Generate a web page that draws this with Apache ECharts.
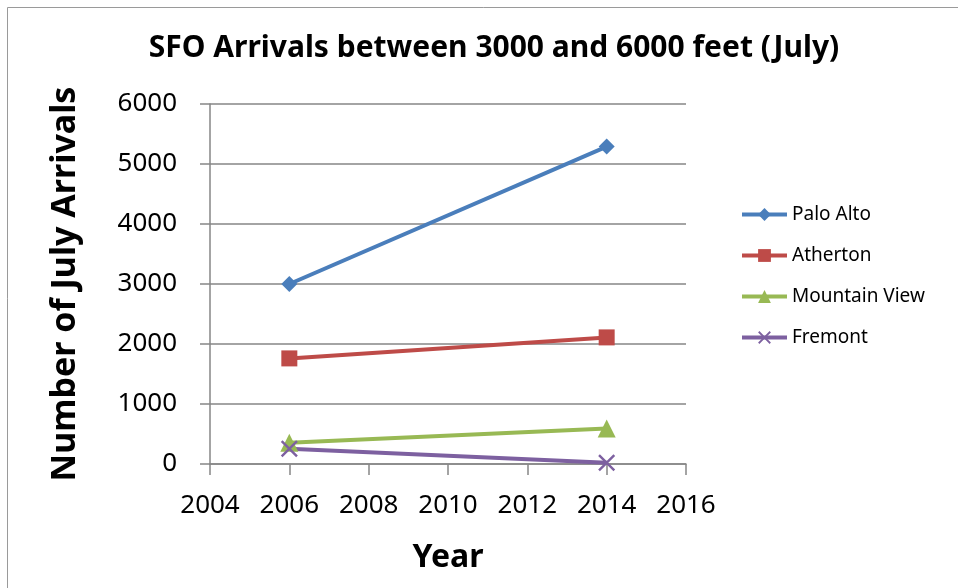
<!DOCTYPE html>
<html>
<head>
<meta charset="utf-8">
<script src="https://cdn.jsdelivr.net/npm/echarts@6/dist/echarts.min.js"></script>
<style>
  html, body { margin: 0; padding: 0; background: #fff; }
  #chart { width: 958px; height: 588px; }
</style>
</head>
<body>
<div id="chart"></div>
<script>
// data
var years = [2006, 2014];
var paloAlto = [3000, 5290];
var atherton = [1760, 2110];
var mountainView = [355, 590];
var fremont = [255, 20];
var seriesNames = ["Palo Alto", "Atherton", "Mountain View", "Fremont"];

var FONT = "Noto Sans";
var crossPath = "path://M0,1L1,0L5,4L9,0L10,1L6,5L10,9L9,10L5,6L1,10L0,9L4,5Z";

function pairs(vals) {
  return years.map(function (y, i) { return [y, vals[i]]; });
}

function makeLine(name, vals, color, symbol, size) {
  return {
    name: name,
    type: "line",
    data: pairs(vals),
    symbol: symbol,
    symbolSize: size,
    showSymbol: true,
    lineStyle: { color: color, width: 4 },
    itemStyle: { color: color },
    emphasis: { disabled: true }
  };
}

var chart = echarts.init(document.getElementById("chart"));
chart.setOption({
  animation: false,
  textStyle: { fontFamily: FONT },
  title: {
    text: "SFO Arrivals between 3000 and 6000 feet (July)",
    left: 489,
    textAlign: "center",
    top: 28,
    textStyle: { fontFamily: FONT, fontWeight: "bold", fontSize: 30, color: "#000" }
  },
  graphic: [{
    type: "rect",
    shape: { x: 7.5, y: 7.5, width: 960, height: 600 },
    style: { fill: null, stroke: "#9a9a9a", lineWidth: 1 },
    silent: true
  }],
  legend: {
    orient: "vertical",
    left: 735,
    top: 200,
    itemWidth: 45,
    itemHeight: 16,
    itemGap: 22,
    lineStyle: { width: 4 },
    textStyle: { fontFamily: FONT, fontSize: 19, color: "#000" },
    data: seriesNames
  },
  grid: { left: 210, right: 272, top: 104, bottom: 124 },
  xAxis: {
    type: "value",
    min: 2004,
    max: 2016,
    interval: 2,
    name: "Year",
    nameLocation: "middle",
    nameGap: 78,
    nameTextStyle: { fontFamily: FONT, fontWeight: "bold", fontSize: 32, color: "#000" },
    axisLine: { show: true, lineStyle: { color: "#868686", width: 1.5 } },
    axisTick: { show: true, length: 11, lineStyle: { color: "#868686", width: 1.5 } },
    splitLine: { show: false },
    axisLabel: { fontFamily: FONT, fontSize: 26, color: "#000", margin: 29, formatter: function (v) { return String(v); } }
  },
  yAxis: {
    type: "value",
    min: 0,
    max: 6000,
    interval: 1000,
    name: "Number of July Arrivals",
    nameLocation: "middle",
    nameGap: 128,
    nameTextStyle: { fontFamily: FONT, fontWeight: "bold", fontSize: 34, color: "#000" },
    axisLine: { show: true, lineStyle: { color: "#868686", width: 1.5 } },
    axisTick: { show: true, length: 10, lineStyle: { color: "#868686", width: 1.5 } },
    splitLine: { show: true, lineStyle: { color: "#868686", width: 1.5 } },
    axisLabel: { fontFamily: FONT, fontSize: 26, color: "#000", margin: 33, formatter: function (v) { return String(v); } }
  },
  series: [
    makeLine("Palo Alto", paloAlto, "#4a7ebb", "diamond", 16),
    makeLine("Atherton", atherton, "#be4b48", "rect", 16),
    makeLine("Mountain View", mountainView, "#98b954", "triangle", 18),
    makeLine("Fremont", fremont, "#7d60a0", crossPath, 17)
  ]
});
</script>
</body>
</html>
